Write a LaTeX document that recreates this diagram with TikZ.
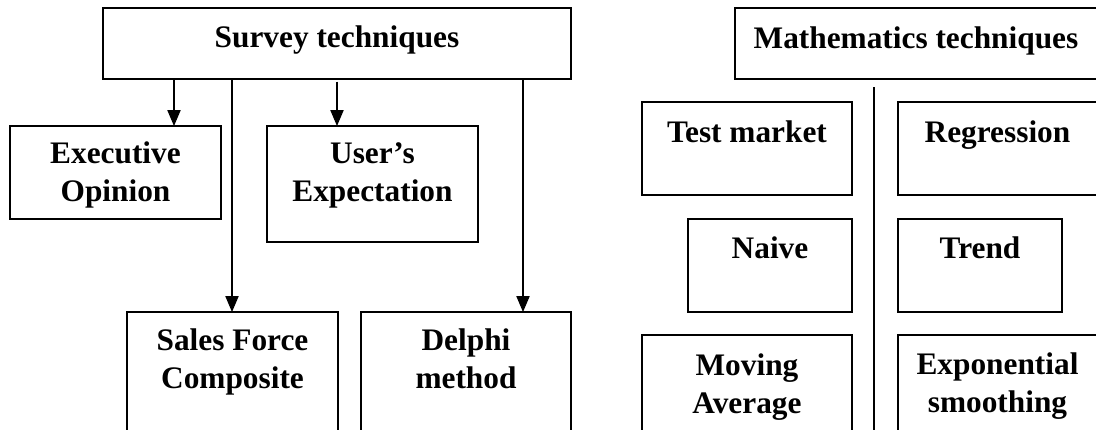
\documentclass[tikz,border=0pt]{standalone}
\usepackage{fontspec}
\setmainfont{Liberation Serif}
\usetikzlibrary{arrows.meta}
\begin{document}
\begin{tikzpicture}[x=0.75pt,y=-0.75pt,
  box/.style={draw, line width=1pt, inner sep=0pt, outer sep=0pt, anchor=north west,
              font=\fontsize{23.5}{28.5}\selectfont\bfseries},
  arr/.style={line width=0.8pt, -{Triangle[length=12pt,width=10pt]}},
  link/.style={line width=0.8pt}]
\useasboundingbox (0,0) rectangle (1096,429);
\clip (0,0) rectangle (1096,429);
% left group
\node[box, minimum width=351pt, text height=29.25pt, text depth=24pt] (survey) at (103,8)
  {\parbox[t]{340pt}{\centering Survey techniques}};
\node[box, minimum width=158.25pt, text height=27.75pt, text depth=42pt] (exec) at (10,126)
  {\parbox[t]{150pt}{\centering Executive\\Opinion}};
\node[box, minimum width=158.25pt, text height=27.75pt, text depth=59.25pt] (user) at (267,126)
  {\parbox[t]{150pt}{\centering User’s\\Expectation}};
\node[box, minimum width=158.25pt, text height=28.5pt, text depth=67.5pt] (sales) at (127,312)
  {\parbox[t]{150pt}{\centering Sales Force\\Composite}};
\node[box, minimum width=157.5pt, text height=28.5pt, text depth=67.5pt] (delphi) at (361,312)
  {\parbox[t]{150pt}{\centering Delphi\\method}};
% right group
\node[box, minimum width=271.5pt, text height=30pt, text depth=23.25pt] (math) at (735,8)
  {\parbox[t]{265pt}{\centering Mathematics techniques}};
\node[box, minimum width=157.5pt, text height=30pt, text depth=39.75pt] (test) at (642,102)
  {\parbox[t]{150pt}{\centering Test market}};
\node[box, minimum width=149.25pt, text height=30pt, text depth=39.75pt] (regr) at (898,102)
  {\parbox[t]{143pt}{\centering Regression}};
\node[box, minimum width=123pt, text height=29.25pt, text depth=40.5pt] (naive) at (688,219)
  {\parbox[t]{117pt}{\centering Naive}};
\node[box, minimum width=123pt, text height=29.25pt, text depth=40.5pt] (trend) at (898,219)
  {\parbox[t]{117pt}{\centering Trend}};
\node[box, minimum width=157.5pt, text height=30pt, text depth=48.75pt] (moving) at (642,335)
  {\parbox[t]{150pt}{\centering Moving\\Average}};
\node[box, minimum width=149.25pt, text height=29.25pt, text depth=49.5pt] (expo) at (898,335)
  {\parbox[t]{143pt}{\centering Exponential\\smoothing}};
% connectors
\coordinate (ax1) at (174,0);
\coordinate (ax2) at (337,0);
\coordinate (ax3) at (232,0);
\coordinate (ax4) at (523,0);
\draw[arr] (survey.south -| ax1) -- (exec.north -| ax1);
\draw[arr] ([yshift=-2pt]survey.south -| ax2) -- (user.north -| ax2);
\draw[arr] (survey.south -| ax3) -- (sales.north -| ax3);
\draw[arr] (survey.south -| ax4) -- (delphi.north -| ax4);
\coordinate (dtop) at (874,87);
\coordinate (dbot) at (874,435);
\draw[link] (dtop) -- (dbot);
\end{tikzpicture}
\end{document}
